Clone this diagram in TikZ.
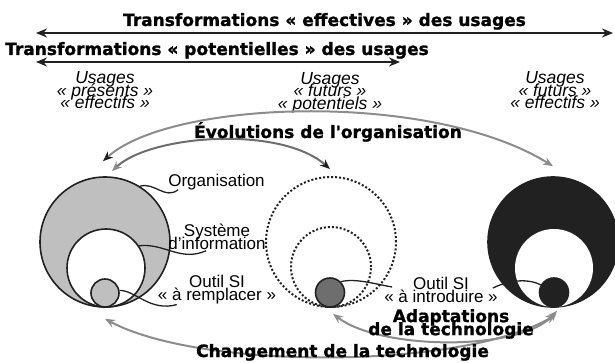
\documentclass[tikz,border=0pt]{standalone}
\usepackage{fontspec}
\setmainfont{Liberation Sans}
\newfontfamily\heavyfont[FakeBold=1.2]{DejaVu Sans}
\usepackage{tikz}
\usetikzlibrary{arrows.meta, calc}
\definecolor{myink}{rgb}{0.13, 0.13, 0.13}
\definecolor{mygray}{rgb}{0.75, 0.75, 0.75}
\definecolor{mydark}{rgb}{0.43, 0.43, 0.43}
\definecolor{myarc}{rgb}{0.55, 0.55, 0.55}
\lineskiplimit=-50pt
\tikzstyle{bigarrow} = [line width=2.2pt, myink, {Stealth[length=11pt,width=9pt]}-{Stealth[length=11pt,width=9pt]}]
\tikzstyle{title} = [font=\heavyfont\bfseries\fontsize{17}{13}\selectfont, inner sep=0pt, anchor=base]

\begin{document}
\begin{tikzpicture}[x=1pt, y=-1pt,
    ring/.style={circle, draw=myink, line width=1.6pt, inner sep=0pt, minimum size=#1},
    ghost/.style={circle, draw=myink, line width=2pt, dotted, inner sep=0pt, minimum size=#1},
    usage/.style={font=\itshape\fontsize{17.5}{12.5}\selectfont, align=center, inner sep=0pt},
    txt/.style={font=\fontsize{17}{13}\selectfont, align=center, inner sep=0pt},
    wave/.style={line width=1.3pt, myink},
    flow/.style={line width=2pt, myarc}]
    \useasboundingbox (0,0) rectangle (615,363);
    % circles of the three states
    \node[ring=130pt, fill=mygray] (org1) at (105,242) {};
    \node[ring=78pt, fill=white]   (si1)  at (106,268) {};
    \node[ring=28pt, fill=mygray]  (tool1) at (105,293) {};
    \node[ghost=130pt] (org2) at (331,242) {};
    \node[ghost=80pt]  (si2)  at (331,267) {};
    \node[ring=29pt, fill=mydark] (tool2) at (330,292.5) {};
    \node[ring=130pt, fill=myink] (org3) at (553,242) {};
    \node[circle, fill=white, inner sep=0pt, minimum size=78pt] (si3) at (554,268) {};
    \node[ring=29pt, fill=myink] (tool3) at (554,292.5) {};
    % top arrows
    \node[title] (eff) at (324.5,26) {Transformations « effectives » des usages};
    \coordinate (effL) at (36,33);
    \coordinate (effR) at (613,33);
    \draw[bigarrow] (effL) -- (effR);
    \node[title] (pot) at (217,55) {Transformations « potentielles » des usages};
    \coordinate (potL) at (36,62);
    \coordinate (potR) at (400,62);
    \draw[bigarrow] (potL) -- (potR);
    \node[usage] (use1) at (105,90.5) {Usages\\« présents »\\« effectifs »};
    \node[usage] (use2) at (330,92.3) {Usages\\« futurs »\\« potentiels »};
    \node[usage] (use3) at (555,90.5) {Usages\\« futurs »\\« effectifs »};
    % arcs
    \draw[flow, {Stealth[length=10pt,width=8pt,color=myink]}-{Stealth[length=10pt,width=8pt]}] ([shift={(-2,-15)}]org1.north) .. controls (170,100) and (430,90) .. ([shift={(0,-10)}]org3.north);
    \draw[flow, draw=mydark, {Stealth[length=10pt,width=8pt,color=myarc]}-{Stealth[length=10pt,width=8pt,color=myink]}] ([shift={(7,-5)}]org1.north) .. controls (150,135) and (280,125) .. ([shift={(-1,-7)}]org2.north);
    \node[title] (evo) at (328,138) {Évolutions de l'organisation};
    \draw[flow, {Stealth[length=10pt,width=8pt]}-{Stealth[length=10pt,width=8pt]}] ([shift={(0,11)}]org1.south) .. controls (200,370) and (460,370) .. ([shift={(3,7)}]org3.south);
    \draw[flow, {Stealth[length=10pt,width=8pt]}-{Stealth[length=10pt,width=8pt]}] ([shift={(3,6)}]tool2.south) .. controls (380,350) and (520,352) .. ([shift={(3,3)}]tool3.south);
    \node[title] (chg) at (342.5,357) {Changement de la technologie};
    \node[title, anchor=center, align=center] (adapt) at (451,324) {Adaptations\\de la technologie};
    % labels
    \node[txt, anchor=base] (orgLbl) at (216.5,187) {Organisation};
    \node[txt, font=\fontsize{17}{12.5}\selectfont] (siLbl) at (217,237) {Système\\d'information};
    \node[txt] (oldLbl) at (217,290) {Outil SI\\« à remplacer »};
    \node[txt] (newLbl) at (441,290) {Outil SI\\« à introduire »};
    \draw[wave] (org1.58) .. controls (155,182) and (165,200) .. ([shift={(10,-1)}]orgLbl.south west);
    \draw[wave] (si1.34) .. controls (165,243) and (180,262) .. ([shift={(38,1)}]siLbl.south west);
    \draw[wave] (tool1.10) .. controls (135,290) and (150,312) .. ([shift={(19,0)}]oldLbl.south west);
    \draw[wave] (tool2.45) .. controls (355,278) and (375,284) .. ([shift={(8,-3)}]newLbl.west);
    \draw[wave] ([shift={(-5,-2)}]newLbl.east) .. controls (505,282) and (525,277) .. (tool3.150);
\end{tikzpicture}
\end{document}
